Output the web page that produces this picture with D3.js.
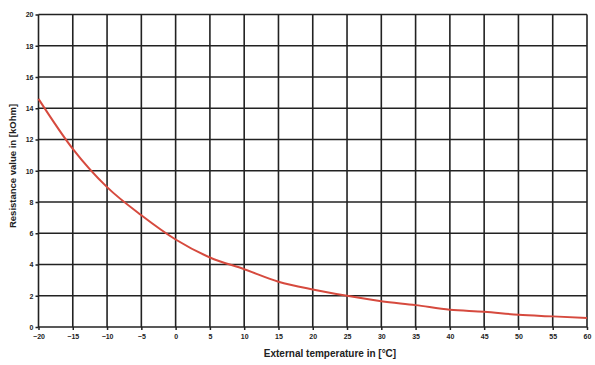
<!DOCTYPE html>
<html>
<head>
<meta charset="utf-8">
<script src="https://cdn.jsdelivr.net/npm/d3@7"></script>
<style>
  body { margin: 0; background: #fff; }
  .tick text { font-family: "Liberation Sans", Arial, sans-serif; font-size: 7px; font-weight: bold; fill: #222; }
  .axis-label { font-family: "Liberation Sans", Arial, sans-serif; font-weight: bold; fill: #222; }
</style>
</head>
<body>
<svg></svg>
<script>
// temperature in °C vs resistance in kOhm
const temps = [-20, -15, -10, -5, 0, 5, 10, 15, 20, 25, 30, 35, 40, 45, 50, 55, 60];
const resistance = [14.6, 11.4, 8.95, 7.15, 5.6, 4.45, 3.7, 2.9, 2.4, 2.0, 1.65, 1.4, 1.1, 0.98, 0.78, 0.68, 0.58];
const xTicks = d3.range(-20, 61, 5);
const yTicks = d3.range(0, 21, 2);

function drawChart() {
    const width = 595;
    const height = 365;
    const margin = { top: 14.5, right: 8, bottom: 38, left: 38.5 };

    const svg = d3.select('svg')
        .attr('width', width)
        .attr('height', height);

    const xScale = d3.scaleLinear()
        .domain([-20, 60])
        .range([margin.left, width - margin.right]);

    const yScale = d3.scaleLinear()
        .domain([0, 20])
        .range([height - margin.bottom, margin.top]);

    // grid
    svg.append('g')
        .selectAll('line')
        .data(xTicks)
        .enter()
        .append('line')
        .attr('x1', d => xScale(d))
        .attr('x2', d => xScale(d))
        .attr('y1', yScale(0))
        .attr('y2', yScale(20))
        .attr('stroke', '#222')
        .attr('stroke-width', 1.6);

    svg.append('g')
        .selectAll('line')
        .data(yTicks)
        .enter()
        .append('line')
        .attr('x1', xScale(-20))
        .attr('x2', xScale(60))
        .attr('y1', d => yScale(d))
        .attr('y2', d => yScale(d))
        .attr('stroke', '#222')
        .attr('stroke-width', 1.6);

    svg.append('g')
        .attr('transform', `translate(0, ${yScale(0)})`)
        .call(d3.axisBottom(xScale).tickValues(xTicks).tickSize(3).tickPadding(4))
        .call(g => g.select('.domain').remove())
        .call(g => g.selectAll('.tick line').attr('stroke', '#222').attr('stroke-width', 1.5));

    svg.append('g')
        .attr('transform', `translate(${xScale(-20)}, 0)`)
        .call(d3.axisLeft(yScale).tickValues(yTicks).tickSize(3).tickPadding(2))
        .call(g => g.select('.domain').remove())
        .call(g => g.selectAll('.tick line').attr('stroke', '#222').attr('stroke-width', 1.5));

    const line = d3.line()
        .x((d, i) => xScale(temps[i]))
        .y(d => yScale(d))
        .curve(d3.curveMonotoneX);

    svg.append('path')
        .datum(resistance)
        .attr('d', line)
        .attr('fill', 'none')
        .attr('stroke', '#d64a3e')
        .attr('stroke-width', 2);

    svg.append('text')
        .attr('class', 'axis-label')
        .attr('x', 330)
        .attr('y', 357)
        .attr('font-size', 10)
        .attr('text-anchor', 'middle')
        .text('External temperature in [°C]');

    svg.append('text')
        .attr('class', 'axis-label')
        .attr('transform', 'translate(16, 166) rotate(-90)')
        .attr('font-size', 9.5)
        .attr('text-anchor', 'middle')
        .text('Resistance value in [kOhm]');
}

drawChart();
</script>
</body>
</html>
